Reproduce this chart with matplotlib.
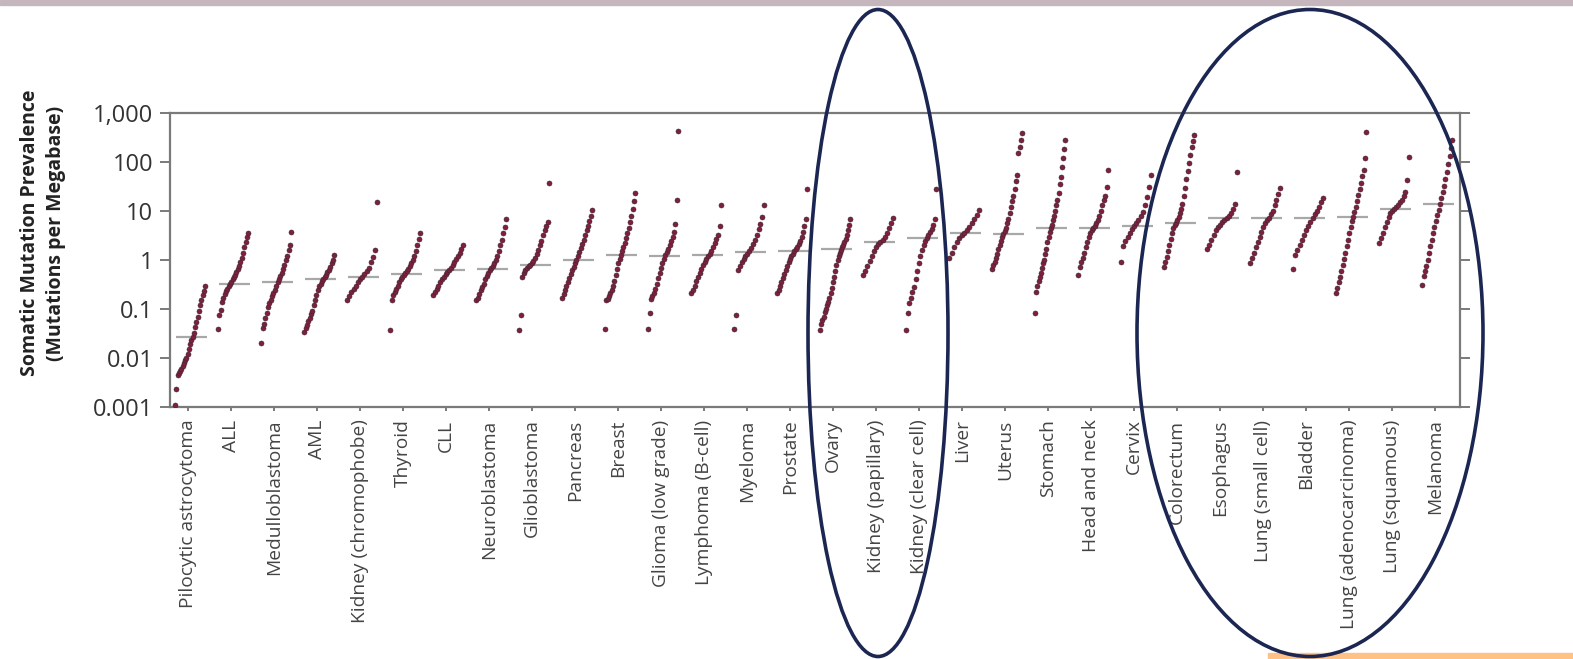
#!/usr/bin/env python3
"""
Somatic mutation prevalence per cancer type (sorted samples, median dash),
with two hand-drawn ellipses over the kidney and lung/melanoma groups.
"""

import numpy as np
import matplotlib
matplotlib.use("Agg")
import matplotlib.pyplot as plt
from matplotlib.patches import Ellipse, Rectangle

# ----------------------- data -----------------------------
CATEGORIES = [
    "Pilocytic astrocytoma", "ALL", "Medulloblastoma", "AML",
    "Kidney (chromophobe)", "Thyroid", "CLL", "Neuroblastoma",
    "Glioblastoma", "Pancreas", "Breast", "Glioma (low grade)",
    "Lymphoma (B-cell)", "Myeloma", "Prostate", "Ovary",
    "Kidney (papillary)", "Kidney (clear cell)", "Liver", "Uterus",
    "Stomach", "Head and neck", "Cervix", "Colorectum", "Esophagus",
    "Lung (small cell)", "Bladder", "Lung (adenocarcinoma)",
    "Lung (squamous)", "Melanoma",
]

# sorted per-sample mutations per megabase
pilocytic = [0.0011, 0.0023, 0.0045, 0.005, 0.0055, 0.006, 0.007, 0.008, 0.009,
             0.010, 0.012, 0.015, 0.019, 0.023, 0.027, 0.033, 0.042, 0.055,
             0.07, 0.09, 0.12, 0.15, 0.19, 0.23, 0.3]
all_ = [0.039, 0.075, 0.095, 0.14, 0.17, 0.2, 0.23, 0.26, 0.29, 0.32, 0.36, 0.4,
        0.45, 0.5, 0.57, 0.65, 0.75, 0.9, 1.1, 1.4, 1.8, 2.3, 2.9, 3.5]
medullo = [0.02, 0.04, 0.05, 0.066, 0.083, 0.11, 0.13, 0.15, 0.18, 0.21, 0.25,
           0.3, 0.35, 0.4, 0.47, 0.55, 0.65, 0.8, 1.0, 1.2, 1.6, 2.0, 3.7]
aml = [0.034, 0.04, 0.048, 0.056, 0.066, 0.078, 0.09, 0.12, 0.15, 0.19, 0.24,
       0.29, 0.33, 0.37, 0.41, 0.45, 0.5, 0.56, 0.63, 0.72, 0.85, 1.0, 1.25]
kidney_chromo = [0.15, 0.18, 0.22, 0.26, 0.3, 0.35, 0.4, 0.45, 0.52, 0.6, 0.7,
                 0.9, 1.15, 1.6, 15]
thyroid = [0.037, 0.15, 0.19, 0.22, 0.26, 0.3, 0.35, 0.4, 0.45, 0.5, 0.55, 0.6,
           0.66, 0.75, 0.85, 1.0, 1.2, 1.5, 2.0, 2.7, 3.5]
cll = [0.19, 0.22, 0.26, 0.3, 0.35, 0.4, 0.46, 0.52, 0.58, 0.63, 0.7, 0.8, 0.9,
       1.05, 1.2, 1.4, 1.7, 2.0]
neuroblastoma = [0.15, 0.17, 0.2, 0.24, 0.28, 0.33, 0.4, 0.47, 0.55, 0.62, 0.68,
                 0.75, 0.85, 1.0, 1.2, 1.5, 2.0, 2.6, 3.5, 4.7, 7]
glioblastoma = [0.037, 0.075, 0.45, 0.55, 0.62, 0.7, 0.75, 0.8, 0.88, 0.97, 1.1,
                1.3, 1.6, 2.0, 2.5, 3.2, 4.0, 5.0, 6.0, 37]
pancreas = [0.165, 0.2, 0.25, 0.3, 0.36, 0.43, 0.52, 0.62, 0.73, 0.86, 1.0, 1.2,
            1.45, 1.75, 2.1, 2.6, 3.2, 4.0, 5.0, 6.3, 8.0, 10.5]
breast = [0.039, 0.15, 0.16, 0.18, 0.21, 0.25, 0.3, 0.38, 0.5, 0.65, 0.85, 1.05,
          1.25, 1.5, 1.8, 2.2, 2.8, 3.5, 4.5, 6.0, 8.0, 11, 16, 23]
glioma = [0.039, 0.083, 0.16, 0.18, 0.21, 0.26, 0.33, 0.42, 0.55, 0.7, 0.88,
          1.05, 1.25, 1.45, 1.7, 2.0, 2.5, 3.0, 3.7, 5.4, 17, 430]
lymphoma = [0.21, 0.25, 0.3, 0.37, 0.45, 0.55, 0.65, 0.78, 0.92, 1.05, 1.2,
            1.35, 1.55, 1.8, 2.2, 2.7, 3.2, 4.9, 13]
myeloma = [0.039, 0.075, 0.63, 0.75, 0.9, 1.05, 1.2, 1.35, 1.5, 1.75, 2.1, 2.6,
           3.3, 4.2, 5.5, 7.5, 13]
prostate = [0.21, 0.25, 0.3, 0.36, 0.43, 0.52, 0.63, 0.76, 0.9, 1.05, 1.2, 1.35,
            1.5, 1.65, 1.85, 2.1, 2.5, 3.0, 3.8, 5.0, 7.0, 28]
ovary = [0.037, 0.05, 0.06, 0.07, 0.085, 0.1, 0.12, 0.14, 0.17, 0.21, 0.27, 0.35,
         0.45, 0.6, 0.8, 1.0, 1.2, 1.4, 1.6, 1.8, 2.0, 2.3, 2.7, 3.2, 4.0, 5.2, 7.0]
kidney_pap = [0.49, 0.6, 0.75, 0.95, 1.2, 1.5, 1.8, 2.1, 2.3, 2.6, 3.0, 3.6, 4.5,
              5.7, 7.2]
kidney_clear = [0.037, 0.083, 0.13, 0.17, 0.22, 0.28, 0.4, 0.6, 0.85, 1.2, 1.6,
                2.0, 2.4, 2.8, 3.2, 3.7, 4.3, 5.2, 7.0, 28]
liver = [1.1, 1.4, 1.8, 2.3, 2.8, 3.2, 3.5, 4.0, 4.7, 5.6, 6.8, 8.3, 10.5]
uterus = [0.66, 0.78, 0.92, 1.1, 1.35, 1.65, 2.0, 2.5, 3.0, 3.4, 3.9, 4.6, 5.6,
          7, 9, 12, 16, 20, 28, 40, 55, 150, 200, 280, 390]
stomach = [0.083, 0.22, 0.3, 0.37, 0.45, 0.55, 0.7, 0.85, 1.0, 1.3, 1.7, 2.3,
           3.0, 3.8, 4.5, 5.3, 6.5, 8, 10, 13, 17, 23, 35, 50, 80, 120, 180, 280]
head_neck = [0.49, 0.73, 0.9, 1.1, 1.4, 1.8, 2.3, 2.9, 3.5, 4.1, 4.5, 5.0, 5.7,
             6.7, 8, 10, 13, 17, 20, 31, 69]
cervix = [0.91, 1.9, 2.5, 3.0, 3.6, 4.2, 4.9, 5.6, 6.5, 7.8, 9.5, 13, 19, 31, 54]
colorectum = [0.72, 0.9, 1.15, 1.5, 2.0, 2.7, 3.5, 4.4, 5.2, 5.8, 6.5, 7.5, 9,
              11, 14, 20, 30, 45, 65, 95, 140, 200, 270, 355]
esophagus = [1.66, 2.0, 2.6, 3.3, 4.0, 4.7, 5.3, 5.9, 6.5, 7.2, 8, 9, 11, 14, 63]
lung_sc = [0.87, 1.1, 1.4, 1.8, 2.3, 3.0, 3.8, 4.7, 5.7, 6.5, 7.2, 8.5, 10, 13,
           17, 22, 29]
bladder = [0.66, 1.26, 1.6, 2.0, 2.6, 3.3, 4.1, 5.0, 6.0, 7.2, 8.5, 10, 12, 15, 18]
lung_adeno = [0.21, 0.27, 0.35, 0.46, 0.6, 0.8, 1.05, 1.4, 1.9, 2.6, 3.5, 4.7,
              6.2, 7.6, 9.5, 12, 16, 21, 28, 38, 52, 70, 120, 410]
lung_sq = [2.2, 2.8, 3.6, 4.7, 6.0, 7.5, 9.0, 10, 11, 12, 13.5, 15, 17, 20, 25,
           43, 126]
melanoma = [0.31, 0.47, 0.6, 0.75, 1.0, 1.4, 1.9, 2.6, 3.5, 4.7, 6.2, 8.2, 10.5,
            14, 18, 24, 32, 45, 63, 90, 130, 190, 280]

SAMPLES = [pilocytic, all_, medullo, aml, kidney_chromo, thyroid, cll,
           neuroblastoma, glioblastoma, pancreas, breast, glioma, lymphoma,
           myeloma, prostate, ovary, kidney_pap, kidney_clear, liver, uterus,
           stomach, head_neck, cervix, colorectum, esophagus, lung_sc, bladder,
           lung_adeno, lung_sq, melanoma]

MEDIANS = [0.027, 0.32, 0.35, 0.41, 0.45, 0.53, 0.63, 0.66, 0.79, 1.0, 1.26,
           1.2, 1.26, 1.45, 1.5, 1.66, 2.3, 2.8, 3.5, 3.4, 4.5, 4.5, 4.9, 5.8,
           7.2, 7.2, 7.2, 7.6, 11, 14]

YTICKS = [0.001, 0.01, 0.1, 1, 10, 100, 1000]
YTICK_LABELS = ["0.001", "0.01", "0.1", "1", "10", "100", "1,000"]
# ----------------------------------------------------------

W, H = 1573, 659
DOT = "#7e1f3e"
GREY = "#7a7a7a"
NAVY = "#1b2752"

plt.rcParams["font.family"] = ["Open Sans", "DejaVu Sans"]

fig = plt.figure(figsize=(W / 100, H / 100), dpi=100)
ax = fig.add_axes([170 / W, 1 - 407 / H, (1460 - 170) / W, (407 - 113) / H])

for i, vals in enumerate(SAMPLES):
    v = np.sort(np.asarray(vals, dtype=float))
    xs = np.linspace(i - 0.3, i + 0.4, len(v))
    ax.hlines(MEDIANS[i], i - 0.28, i + 0.45, color="#a8a8a8", lw=1.6, zorder=2)
    ax.scatter(xs, v, s=13, color=DOT, edgecolors="#3b2630", linewidths=0.4,
               zorder=3)

ax.set_yscale("log")
ax.set_ylim(0.001, 1000)
ax.set_xlim(-0.42, 29.58)
ax.set_yticks(YTICKS)
ax.set_yticklabels(YTICK_LABELS)
ax.minorticks_off()
ax.set_xticks(range(len(CATEGORIES)))
ax.set_xticklabels(CATEGORIES, rotation=90, va="top", ha="center",
                   fontsize=13.8, color="#444444")

for side in ("left", "right", "top", "bottom"):
    ax.spines[side].set_color(GREY)
    ax.spines[side].set_linewidth(1.6)
ax.tick_params(axis="y", which="both", length=7, width=1.4, color=GREY,
               labelsize=17, labelcolor="#333333", pad=5, right=True)
ax.tick_params(axis="x", length=3, width=1.4, color=GREY, pad=6)

fig.text(43 / W, 1 - 233 / H,
         "Somatic Mutation Prevalence\n(Mutations per Megabase)",
         rotation=90, ha="center", va="center", fontsize=14,
         fontweight="bold", color="#222222", linespacing=1.4)

# hand-drawn emphasis ellipses, in figure fractions
for cx, w in ((878, 140), (1310, 346)):
    fig.patches.append(Ellipse((cx / W, 1 - 333 / H), w / W, 647 / H,
                               transform=fig.transFigure, fill=False,
                               edgecolor=NAVY, lw=2.6, zorder=10))

# top border band and bottom-right orange strip
fig.patches.append(Rectangle((0, 1 - 5 / H), 1, 5 / H, transform=fig.transFigure,
                             color="#c4b6bc", zorder=5))
fig.patches.append(Rectangle((1268 / W, 0), (W - 1268) / W, 6 / H,
                             transform=fig.transFigure, color="#ffc184",
                             zorder=5))

fig.savefig("out.png", dpi=100)
